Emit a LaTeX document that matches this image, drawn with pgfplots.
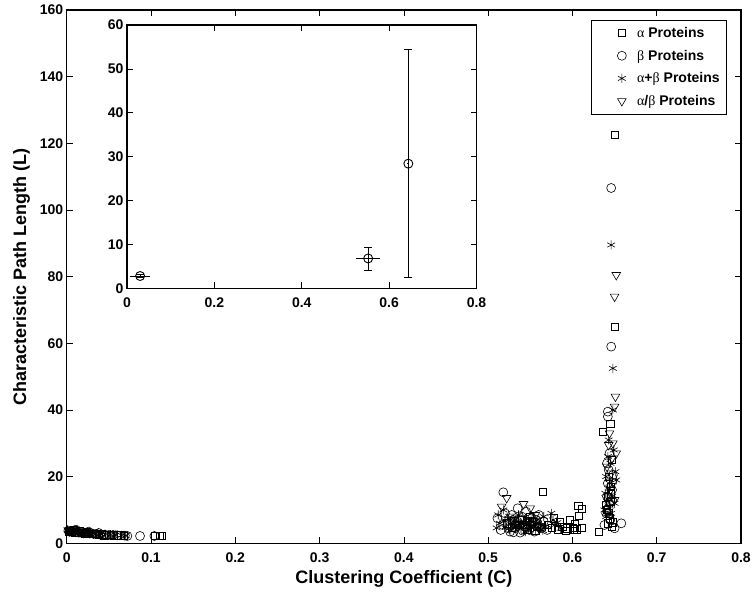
\documentclass[border=0pt]{standalone}
\usepackage{fontspec}
\setmainfont{Liberation Sans}
\newfontfamily\grk{Liberation Serif}
\usepackage{pgfplots}
\pgfplotsset{compat=1.18}

\newcommand{\ga}{{\grk\mdseries α}}
\newcommand{\gb}{{\grk\mdseries β}}

\pgfplotsset{
  matlab/.style={
    scale only axis,
    tick align=inside,
    major tick length=6pt,
    axis line style={line width=1.1pt},
    every tick/.style={line width=0.6pt},
    /pgf/number format/assume math mode=true,
    ticklabel style={font=\fontsize{14}{14}\selectfont\bfseries},
    xticklabel style={yshift=-6pt},
    label style={font=\fontsize{18}{18}\selectfont\bfseries},
  },
}

\begin{document}
\begin{tikzpicture}
\begin{axis}[matlab,
    at={(0,0)}, anchor=south west,
    width=674.3pt, height=533.3pt,
    xmin=0, xmax=0.8, ymin=0, ymax=160,
    xtick={0,0.1,0.2,0.3,0.4,0.5,0.6,0.7,0.8},
    ytick={0,20,40,60,80,100,120,140,160},
    xlabel={Clustering Coefficient (C)},
    ylabel={Characteristic Path Length (L)},
    xlabel style={yshift=-1pt},
    ylabel style={yshift=3pt},
    legend style={at={(1,1)}, anchor=north east, xshift=-14pt, yshift=-10pt,
        font=\fontsize{14}{14}\selectfont\bfseries, draw=black, line width=0.6pt,
        row sep=7pt, inner sep=5pt},
    legend cell align=left,
    legend image code/.code={
        \path (0pt,0pt) (38pt,0pt);
        \draw[#1] plot coordinates {(25pt,0pt)};
    },
]
% alpha proteins
\addplot[only marks, mark=square, mark size=3.6pt, mark options={line width=0.6pt}] coordinates {
(0.003,3.6)(0.006,3.4)(0.010,3.3)(0.014,3.1)(0.018,3.2)(0.022,3.0)(0.026,2.9)(0.030,2.9)
(0.034,2.8)(0.038,2.7)(0.042,2.7)(0.047,2.6)(0.052,2.5)(0.056,2.4)(0.060,2.4)(0.064,2.4)
(0.068,2.3)(0.105,2.2)(0.110,2.2)(0.113,2.2)(0.008,4.0)(0.016,3.7)(0.024,3.4)(0.044,2.4)
(0.522,6.0)(0.528,4.8)(0.535,5.5)(0.540,7.0)(0.546,4.2)(0.552,6.5)(0.558,5.0)(0.565,15.4)
(0.571,5.5)(0.578,7.5)(0.583,4.0)(0.588,5.0)(0.592,3.8)(0.597,7.0)(0.600,4.7)(0.603,5.8)
(0.607,11.2)(0.608,8.3)(0.611,10.3)(0.611,4.7)(0.605,4.2)(0.585,6.5)(0.594,4.5)
(0.531,6.8)(0.544,5.6)(0.549,7.8)(0.556,3.8)(0.576,4.6)(0.602,4.2)
(0.631,3.5)(0.636,33.4)(0.641,10.0)(0.642,14.0)(0.643,20.0)(0.644,7.5)(0.645,35.8)(0.645,12.5)
(0.646,17.0)(0.647,4.9)(0.647,25.0)(0.648,6.3)(0.650,65.0)(0.650,122.5)(0.643,9.0)
(0.640,11.5)(0.642,6.0)(0.646,15.0)
};
\addlegendentry{\ga\ Proteins}
% beta proteins
\addplot[only marks, mark=o, mark size=4.5pt, mark options={line width=0.6pt}] coordinates {
(0.002,3.8)(0.005,3.5)(0.008,3.6)(0.012,3.3)(0.016,3.2)(0.020,3.1)(0.024,3.0)(0.028,3.0)
(0.032,2.8)(0.036,2.8)(0.040,2.6)(0.045,2.6)(0.050,2.5)(0.055,2.5)(0.060,2.4)(0.069,2.3)
(0.072,2.2)(0.087,2.2)(0.104,2.2)(0.011,4.1)(0.026,3.5)(0.038,3.1)
(0.511,7.5)(0.515,4.0)(0.518,15.3)(0.520,9.0)(0.523,5.5)(0.526,3.5)(0.529,7.0)(0.532,4.5)
(0.535,6.5)(0.538,3.2)(0.540,8.0)(0.543,5.0)(0.546,6.0)(0.549,4.0)(0.552,7.5)(0.555,3.5)
(0.558,5.5)(0.560,8.5)(0.563,4.5)(0.566,6.5)(0.570,4.0)(0.535,10.5)(0.545,9.5)
(0.517,5.5)(0.528,8.5)(0.541,3.8)(0.550,5.5)(0.557,7.0)
(0.524,4.5)(0.533,5.8)(0.538,7.2)(0.547,4.8)(0.553,6.2)(0.561,5.0)(0.530,3.3)
(0.638,5.5)(0.640,9.0)(0.641,14.0)(0.642,18.0)(0.642,39.5)(0.643,22.0)(0.644,27.0)(0.644,12.0)
(0.645,7.0)(0.646,59.0)(0.646,106.6)(0.647,16.0)(0.648,20.5)(0.650,4.5)(0.658,6.0)(0.642,38.0)
(0.641,24.0)(0.643,10.5)(0.647,13.0)
};
\addlegendentry{\gb\ Proteins}
% alpha+beta proteins
\addplot[only marks, mark=asterisk, mark size=4.5pt, mark options={line width=0.6pt}] coordinates {
(0.001,4.0)(0.004,3.7)(0.007,3.5)(0.010,3.4)(0.013,3.5)(0.016,3.3)(0.019,3.2)(0.022,3.2)
(0.025,3.1)(0.028,3.0)(0.031,3.0)(0.035,2.9)(0.040,2.8)(0.046,2.7)(0.052,2.6)(0.058,2.5)
(0.065,2.4)(0.070,2.3)(0.003,3.3)(0.009,3.9)(0.020,2.8)
(0.510,4.6)(0.514,6.0)(0.518,10.0)(0.521,5.0)(0.524,7.5)(0.527,4.0)(0.530,6.0)(0.533,5.0)
(0.536,8.5)(0.539,4.5)(0.542,6.5)(0.545,5.5)(0.548,4.0)(0.551,7.0)(0.554,5.0)(0.557,6.0)
(0.560,4.5)(0.563,5.5)(0.566,8.0)(0.575,9.0)(0.577,7.0)(0.579,5.5)(0.586,4.5)
(0.512,8.5)(0.532,7.0)(0.544,3.5)(0.556,4.0)(0.568,5.0)
(0.520,6.8)(0.537,5.2)(0.549,6.0)(0.559,7.2)(0.565,3.8)(0.582,6.2)
(0.638,10.0)(0.639,15.0)(0.640,20.0)(0.641,13.0)(0.642,26.0)(0.643,31.0)(0.644,18.0)(0.645,24.0)
(0.646,9.0)(0.646,89.5)(0.647,14.0)(0.648,52.5)(0.648,40.0)(0.649,28.0)(0.650,12.0)(0.651,21.5)
(0.652,19.0)(0.640,8.0)(0.644,16.5)
};
\addlegendentry{\ga+\gb\ Proteins}
% alpha/beta proteins
\addplot[only marks, mark=triangle, mark size=5pt, mark options={line width=0.6pt, rotate=180}] coordinates {
(0.002,3.9)(0.006,3.7)(0.010,3.5)(0.014,3.4)(0.018,3.3)(0.023,3.2)(0.027,3.1)(0.032,3.0)
(0.037,2.9)(0.042,2.9)(0.048,2.7)(0.055,2.6)
(0.516,11.0)(0.522,13.6)(0.526,8.0)(0.531,6.0)(0.537,5.5)(0.542,11.8)(0.547,7.0)(0.550,10.5)
(0.553,6.0)(0.556,8.5)(0.562,5.0)
(0.641,23.0)(0.643,29.5)(0.644,33.0)(0.645,16.0)(0.646,21.0)(0.647,25.5)(0.648,30.0)(0.649,18.5)
(0.650,41.0)(0.650,74.0)(0.651,44.0)(0.652,80.5)(0.652,27.0)(0.650,13.0)
};
\addlegendentry{\ga/\gb\ Proteins}
\end{axis}

\begin{axis}[matlab,
    at={(60.3pt,255pt)}, anchor=south west,
    width=349.5pt, height=263.3pt,
    xmin=0, xmax=0.8, ymin=0, ymax=60,
    xtick={0,0.2,0.4,0.6,0.8},
    ytick={0,10,20,30,40,50,60},
    axis background/.style={fill=white},
]
% horizontal spread, no caps
\addplot[draw=none, mark=none,
    error bars/.cd, x dir=both, x explicit, error mark=none,
    error bar style={line width=0.6pt}]
coordinates {
(0.030,2.8) +- (0.023,0)
(0.552,6.8) +- (0.027,0)
(0.644,28.4) +- (0.002,0)
};
% vertical spread with caps
\addplot[only marks, mark=o, mark size=4.5pt, mark options={line width=0.9pt},
    error bars/.cd, y dir=both, y explicit,
    error mark options={rotate=90, mark size=4pt, line width=0.6pt},
    error bar style={line width=0.6pt}]
coordinates {
(0.030,2.8) +- (0,0.3)
(0.552,6.8) +- (0,2.6)
(0.644,28.4) +- (0,26.0)
};
\end{axis}

\pgfresetboundingbox
\useasboundingbox (-66.7pt,-47.7pt) rectangle (687.3pt,543.3pt);
\end{tikzpicture}
\end{document}
